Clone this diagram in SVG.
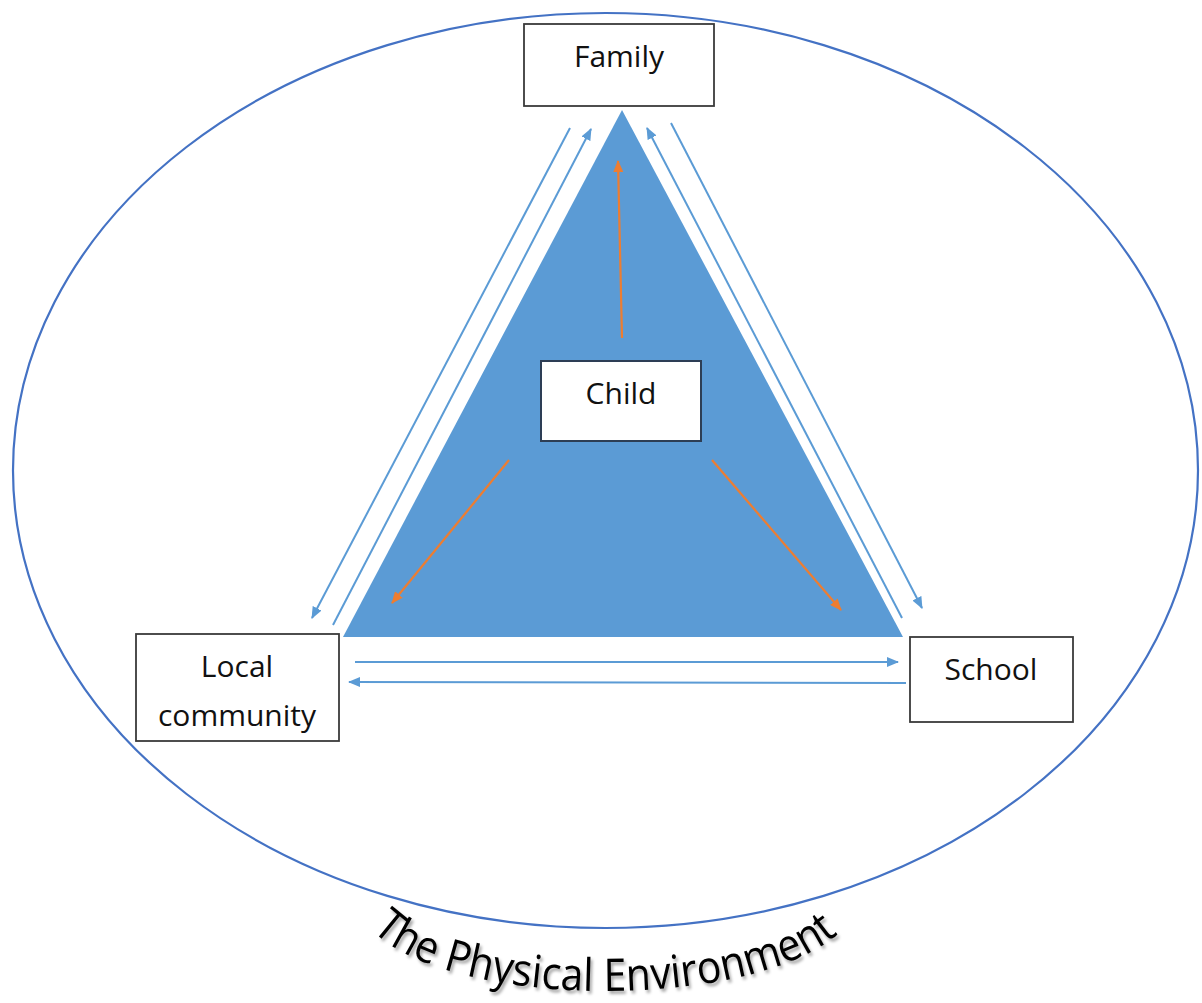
<svg xmlns="http://www.w3.org/2000/svg" width="1202" height="1003" viewBox="0 0 1202 1003">
<style>
.box{fill:#fff;stroke:#3a3a3a;stroke-width:1.8}
.lbl{font-family:"Open Sans","Liberation Sans",sans-serif;font-size:30px;fill:#111;text-anchor:middle}
.blue{stroke:#5B9BD5;stroke-width:2;fill:none}
.org{stroke:#ED7D31;stroke-width:2.2;fill:none}
</style>
<defs>
<marker id="ab" viewBox="0 0 12 10" refX="11" refY="5" markerWidth="12" markerHeight="10" markerUnits="userSpaceOnUse" orient="auto"><path d="M0,0 L12,5 L0,10 Z" fill="#5B9BD5"/></marker>
<marker id="ao" viewBox="0 0 12 10" refX="11" refY="5" markerWidth="12" markerHeight="10" markerUnits="userSpaceOnUse" orient="auto"><path d="M0,0 L12,5 L0,10 Z" fill="#ED7D31"/></marker>
<filter id="sh" x="-10%" y="-30%" width="120%" height="160%"><feDropShadow dx="2" dy="3" stdDeviation="1.5" flood-color="#000" flood-opacity="0.35"/></filter>
<path id="arc" d="M 372 930 C 452 1012, 768 1012, 846 926"/>
</defs>
<ellipse cx="605.5" cy="470.5" rx="592.5" ry="457.5" fill="none" stroke="#4472C4" stroke-width="2.2"/>
<polygon points="622,110 343,637 903,637" fill="#5B9BD5"/>
<g id="connectors">
<line class="blue" x1="570" y1="128" x2="312" y2="618" marker-end="url(#ab)"/>
<line class="blue" x1="333" y1="625" x2="591" y2="129" marker-end="url(#ab)"/>
<line class="blue" x1="902" y1="618" x2="647" y2="128" marker-end="url(#ab)"/>
<line class="blue" x1="671" y1="123" x2="922" y2="608" marker-end="url(#ab)"/>
<line class="blue" x1="355" y1="662" x2="898" y2="662" marker-end="url(#ab)"/>
<line class="blue" x1="906" y1="683" x2="349" y2="682" marker-end="url(#ab)"/>
<line class="org" x1="622" y1="338" x2="618" y2="161" marker-end="url(#ao)"/>
<line class="org" x1="509" y1="460" x2="392" y2="603" marker-end="url(#ao)"/>
<line class="org" x1="712" y1="460" x2="841" y2="610" marker-end="url(#ao)"/>
</g>
<g id="family"><rect class="box" x="524" y="24" width="190" height="82"/><text class="lbl" x="619" y="67">Family</text></g>
<g id="child"><rect x="541" y="361" width="160" height="80" fill="#fff" stroke="#2d3e55" stroke-width="2"/><text class="lbl" x="621" y="404">Child</text></g>
<g id="local-community"><rect class="box" x="136" y="634" width="203" height="107"/><text class="lbl" x="237" y="677">Local</text><text class="lbl" x="237" y="726">community</text></g>
<g id="school"><rect class="box" x="910" y="637" width="163" height="85"/><text class="lbl" x="991" y="680">School</text></g>
<text font-family="'Open Sans','Liberation Sans',sans-serif" font-size="45" fill="#000" filter="url(#sh)"><textPath href="#arc" textLength="490" lengthAdjust="spacingAndGlyphs">The Physical Environment</textPath></text>
</svg>
